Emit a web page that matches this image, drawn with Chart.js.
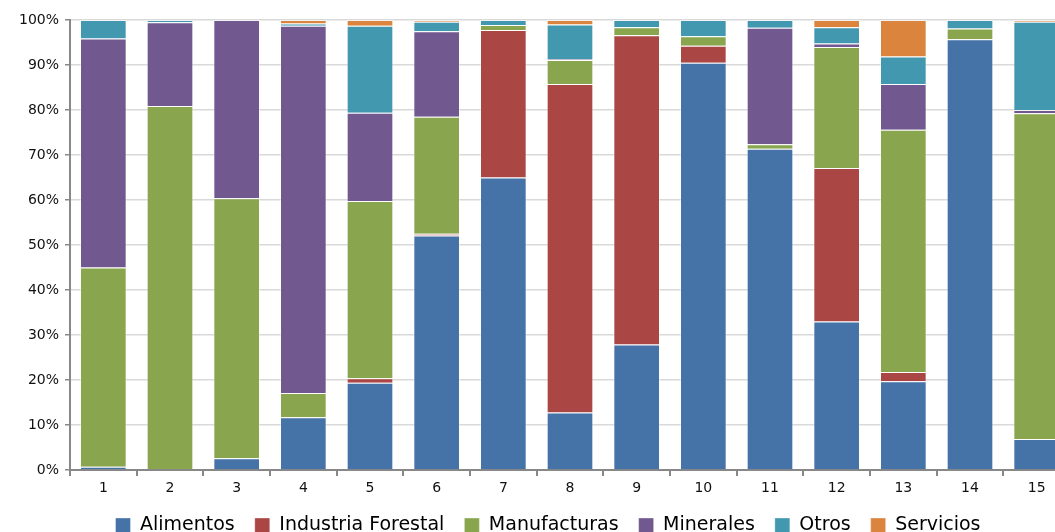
<!DOCTYPE html>
<html>
<head>
<meta charset="utf-8">
<script src="https://cdn.jsdelivr.net/npm/chart.js@4"></script>
<style>
  html, body { margin: 0; padding: 0; overflow: hidden; background: #fff; }
  #chart-container { width: 1070px; height: 545px; }
</style>
</head>
<body>
<div id="chart-container"><canvas id="myChart" width="1070" height="545"></canvas></div>
<script>
// categorias (eje X)
var categories = ['1', '2', '3', '4', '5', '6', '7', '8', '9', '10', '11', '12', '13', '14', '15'];

// participacion por sector, en %
var alimentos = [0.7, 0, 2.6, 11.7, 19.4, 52.1, 65.0, 12.8, 27.9, 90.5, 71.4, 33.0, 19.7, 95.7, 6.9];
var industriaForestal = [0, 0, 0, 0, 1.0, 0.4, 32.8, 73.0, 68.7, 3.8, 0, 34.1, 2.1, 0, 0];
var manufacturas = [44.3, 80.9, 57.8, 5.4, 39.4, 26.0, 1.1, 5.3, 1.8, 2.1, 1.0, 26.9, 53.8, 2.4, 72.4];
var minerales = [50.9, 18.6, 39.6, 81.6, 19.6, 19.0, 0, 0.2, 0, 0, 25.9, 0.8, 10.2, 0, 0.7];
var otros = [4.1, 0.5, 0, 0.5, 19.3, 2.1, 1.1, 7.7, 1.6, 3.6, 1.7, 3.6, 6.1, 1.9, 19.6];
var servicios = [0, 0, 0, 0.8, 1.3, 0.4, 0, 1.0, 0, 0, 0, 1.6, 8.1, 0, 0.4];

var yTicks = [0, 10, 20, 30, 40, 50, 60, 70, 80, 90, 100];

function serie(label, data, color) {
    return {
        label: label,
        data: data,
        backgroundColor: color,
        borderColor: 'rgba(255,255,255,0.35)',
        borderWidth: 1,
        barPercentage: 0.7,
        categoryPercentage: 1.0
    };
}

var ctx = document.getElementById('myChart').getContext('2d');
var myChart = new Chart(ctx, {
    type: 'bar',
    data: {
        labels: categories,
        datasets: [
            serie('Alimentos', alimentos, '#4572A7'),
            serie('Industria Forestal', industriaForestal, '#AA4643'),
            serie('Manufacturas', manufacturas, '#89A54E'),
            serie('Minerales', minerales, '#71588F'),
            serie('Otros', otros, '#4198AF'),
            serie('Servicios', servicios, '#DB843D')
        ]
    },
    options: {
        responsive: false,
        animation: false,
        layout: { padding: { top: 20, right: 0, left: 0, bottom: 0 } },
        plugins: {
            tooltip: { enabled: false },
            legend: {
                position: 'bottom',
                labels: {
                    boxWidth: 15,
                    boxHeight: 15,
                    padding: 20,
                    color: '#000',
                    font: { family: 'DejaVu Sans', size: 19 }
                }
            }
        },
        scales: {
            x: {
                stacked: true,
                grid: {
                    offset: true,
                    drawOnChartArea: false,
                    drawTicks: true,
                    tickLength: 6,
                    tickColor: '#888',
                    lineWidth: 2
                },
                border: { color: '#888', width: 2 },
                ticks: {
                    color: '#111',
                    padding: 4,
                    font: { family: 'DejaVu Sans', size: 14 }
                },
                afterFit: function (scale) { scale.height = 26; }
            },
            y: {
                stacked: true,
                min: 0,
                max: 100,
                afterBuildTicks: function (scale) {
                    scale.ticks = yTicks.map(function (v) { return { value: v }; });
                },
                grid: {
                    color: '#D9D9D9',
                    lineWidth: 1.5,
                    tickLength: 5,
                    tickColor: '#888'
                },
                border: { color: '#888', width: 2 },
                ticks: {
                    color: '#111',
                    padding: 6,
                    font: { family: 'DejaVu Sans', size: 14 },
                    callback: function (v) { return v + '%'; }
                },
                afterFit: function (scale) { scale.width = 70; }
            }
        }
    },
    // correr la leyenda un poco a la derecha, como en el original
    plugins: [{
        id: 'legendShift',
        afterLayout: function (chart) {
            if (chart.legend) {
                chart.legend.left += 13;
                chart.legend.right += 13;
            }
        }
    }]
});
</script>
</body>
</html>
